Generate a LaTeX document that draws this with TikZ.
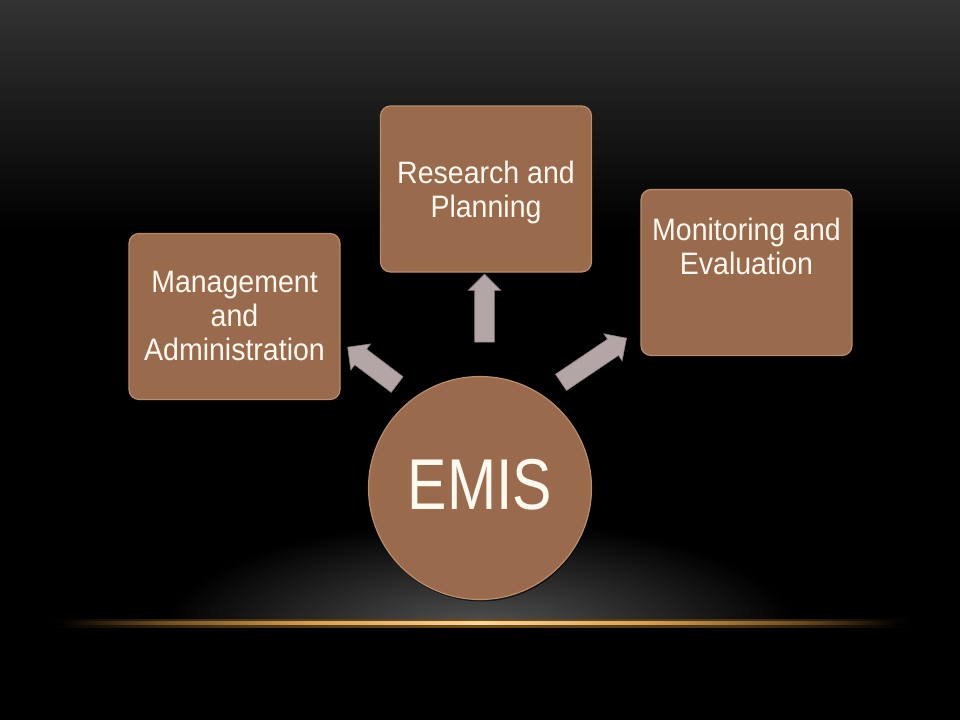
\documentclass[tikz,border=0pt]{standalone}
\usepackage{fontspec}
\setmainfont{Liberation Sans}[FakeStretch=0.92]
\newfontfamily\emisfont{Liberation Sans}[FakeStretch=0.82]
\usetikzlibrary{shapes.arrows,shadows}
\definecolor{boxbrown}{RGB}{154,106,77}
\definecolor{boxedge}{RGB}{185,140,106}
\definecolor{arrowc}{RGB}{180,165,166}
\definecolor{arrowd}{RGB}{140,125,126}
\definecolor{txt}{RGB}{255,250,240}
\definecolor{gold}{RGB}{252,215,150}
\definecolor{goldm}{RGB}{215,160,80}
\definecolor{goldd}{RGB}{110,75,30}
\definecolor{goldg}{RGB}{70,48,20}
\pgfdeclarehorizontalshading{goldline}{100bp}{color(0bp)=(black); color(25bp)=(black); color(31bp)=(goldd); color(40bp)=(goldm); color(50bp)=(gold); color(60bp)=(goldm); color(69bp)=(goldd); color(75bp)=(black); color(100bp)=(black)}
\pgfdeclarehorizontalshading{goldglow}{100bp}{color(0bp)=(black); color(25bp)=(black); color(35bp)=(goldg); color(50bp)=(goldd); color(65bp)=(goldg); color(75bp)=(black); color(100bp)=(black)}
\tikzset{
  box/.style={draw=boxedge, line width=1.2pt, fill=boxbrown, rounded corners=10pt,
    minimum width=211pt, minimum height=166pt, inner sep=0pt,
    drop shadow={shadow xshift=1pt, shadow yshift=-2pt, fill=black, opacity=0.6}},
  lbl/.style={text=txt, align=center, inner sep=0pt, anchor=base,
    font=\fontsize{31}{34}\selectfont},
  blockarrow/.style={single arrow, draw=arrowd, line width=0.6pt, fill=arrowc,
    inner xsep=0pt, inner ysep=9.5pt, single arrow head extend=6.5pt,
    single arrow head indent=0pt},
}
\begin{document}
\begin{tikzpicture}[x=1pt,y=-1pt]
\useasboundingbox (0,0) rectangle (960,720);
% background
\fill[black] (0,0) rectangle (960,720);
\shade[top color=black!80!white, bottom color=black] (0,0) rectangle (960,230);
% bottom glow
\begin{scope}
  \clip (0,500) rectangle (960,622);
  \shade[inner color=black!66!white, outer color=black] (480,635) ellipse [x radius=320pt, y radius=115pt];
\end{scope}
\shade[shading=goldglow] (50,619) rectangle (910,627);
\shade[shading=goldline] (60,621.8) rectangle (900,624.4);
% boxes
\node[box] (res) at (486,189) {};
\node[box] (mon) at (746.5,272.5) {};
\node[box] (man) at (234.5,316.5) {};
\node[lbl] (rest) at (486,217) {Research and\\Planning};
\node[lbl] (mont) at (746.5,274) {Monitoring and\\Evaluation};
\node[lbl] (mant) at (234.5,360) {Management\\and\\Administration};
% circle
\node[circle, draw=boxedge, line width=1.2pt, fill=boxbrown, minimum size=223pt, inner sep=0pt,
  drop shadow={shadow xshift=1pt, shadow yshift=-2pt, fill=black, opacity=0.6}] (emis) at (480,488) {};
\node[text=txt, anchor=base, inner sep=0pt, font=\emisfont\fontsize{72}{80}\selectfont] (emist) at (480,509) {EMIS};
% arrows
\node[blockarrow, minimum height=68pt, rotate=90] (aup) at (484.5,313) {};
\node[blockarrow, minimum height=62pt, rotate=142.9] (aleft) at (376.3,368.8) {};
\node[blockarrow, minimum height=79pt, rotate=34] (aright) at (589.7,363) {};
\end{tikzpicture}
\end{document}
